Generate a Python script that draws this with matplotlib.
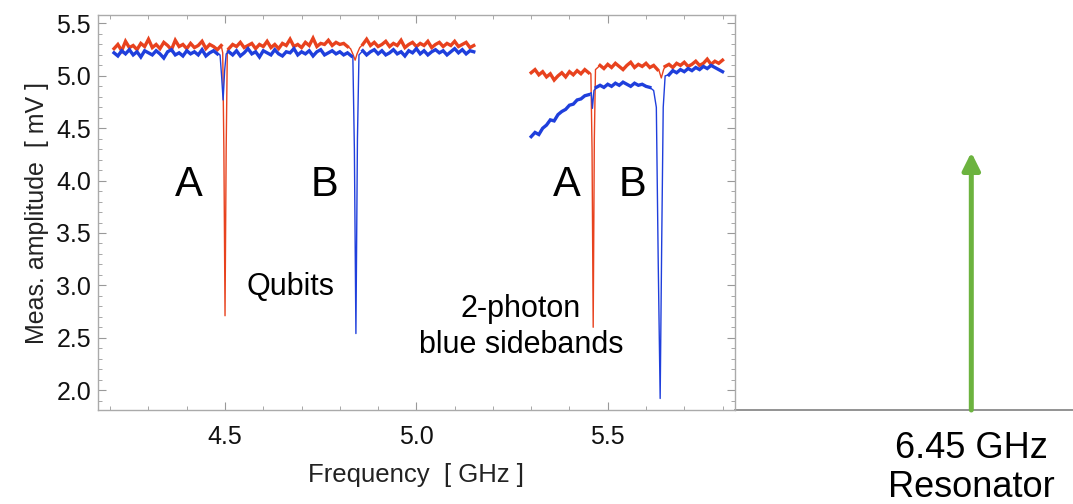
import numpy as np
import matplotlib
matplotlib.use("Agg")
import matplotlib.pyplot as plt

plt.rcParams['font.family'] = ['Liberation Sans', 'DejaVu Sans']

# ---- data ----------------------------------------------------------------
# left sweep: 4.21 .. 5.15 GHz, 0.01 GHz step
left_start, left_step = 4.21, 0.01
left_red = [
    5.26, 5.30, 5.24, 5.33, 5.27, 5.29, 5.25, 5.31, 5.28, 5.35,
    5.27, 5.30, 5.26, 5.32, 5.29, 5.25, 5.34, 5.28, 5.30, 5.26,
    5.31, 5.27, 5.29, 5.33, 5.26, 5.30, 5.28, 5.25, 5.29, 5.27,
    5.26, 5.30, 5.28, 5.32, 5.27, 5.29, 5.31, 5.26, 5.30, 5.28,
    5.33, 5.27, 5.30, 5.26, 5.31, 5.29, 5.35, 5.28, 5.30, 5.27,
    5.32, 5.29, 5.36, 5.28, 5.31, 5.30, 5.34, 5.29, 5.32, 5.30,
    5.31, 5.28, 5.33, 5.22, 5.27, 5.30, 5.35, 5.29, 5.32, 5.28,
    5.30, 5.33, 5.28, 5.31, 5.29, 5.34, 5.27, 5.30, 5.32, 5.28,
    5.31, 5.29, 5.33, 5.27, 5.30, 5.32, 5.28, 5.31, 5.29, 5.33,
    5.28, 5.30, 5.32, 5.27, 5.29]
left_blue = [
    5.22, 5.19, 5.24, 5.21, 5.25, 5.20, 5.23, 5.18, 5.24, 5.22,
    5.20, 5.24, 5.21, 5.17, 5.23, 5.25, 5.20, 5.22, 5.19, 5.24,
    5.21, 5.23, 5.20, 5.25, 5.19, 5.22, 5.24, 5.21, 5.18, 5.22,
    5.23, 5.20, 5.24, 5.19, 5.22, 5.26, 5.21, 5.23, 5.18, 5.24,
    5.22, 5.20, 5.25, 5.21, 5.19, 5.23, 5.22, 5.26, 5.20, 5.23,
    5.21, 5.24, 5.19, 5.23, 5.25, 5.20, 5.22, 5.24, 5.21, 5.23,
    5.20, 5.22, 5.19, 5.23, 5.21, 5.24, 5.20, 5.23, 5.25, 5.21,
    5.24, 5.20, 5.22, 5.25, 5.21, 5.23, 5.19, 5.24, 5.22, 5.26,
    5.21, 5.24, 5.20, 5.23, 5.25, 5.22, 5.24, 5.20, 5.23, 5.26,
    5.22, 5.25, 5.21, 5.24, 5.23]

# right sweep: 5.30 .. 5.80 GHz, 0.01 GHz step
right_start, right_step = 5.30, 0.01
right_red = [
    5.03, 5.06, 5.01, 5.04, 4.99, 5.02, 4.96, 5.00, 5.03, 4.99,
    5.04, 5.01, 5.05, 5.02, 5.06, 5.03, 5.02, 5.08, 5.10, 5.07,
    5.11, 5.08, 5.12, 5.09, 5.06, 5.10, 5.13, 5.08, 5.11, 5.09,
    5.12, 5.08, 5.10, 5.06, 5.05, 5.09, 5.11, 5.08, 5.12, 5.10,
    5.13, 5.09, 5.11, 5.14, 5.10, 5.12, 5.16, 5.11, 5.14, 5.12, 5.15]
right_blue = [
    4.42, 4.46, 4.44, 4.50, 4.53, 4.58, 4.57, 4.63, 4.66, 4.68,
    4.72, 4.73, 4.77, 4.78, 4.81, 4.82, 4.85, 4.89, 4.91, 4.89,
    4.92, 4.90, 4.93, 4.91, 4.94, 4.92, 4.90, 4.93, 4.91, 4.92,
    4.90, 4.89, 4.80, 4.70, 4.98, 5.03, 5.01, 5.05, 5.03, 5.06,
    5.04, 5.07, 5.05, 5.08, 5.06, 5.09, 5.07, 5.10, 5.08, 5.06, 5.04]

# resonance dips: (window lo, window hi, freqs, amplitudes)
red_dips = [
    (4.493, 4.507, [4.494, 4.497, 4.500, 4.503, 4.506], [5.22, 4.30, 2.71, 4.30, 5.24]),
    (4.825, 4.855, [4.828, 4.835, 4.840, 4.845, 4.852], [5.26, 5.20, 5.15, 5.21, 5.27]),
    (5.455, 5.470, [5.456, 5.459, 5.462, 5.465, 5.468], [5.02, 4.30, 2.60, 4.40, 5.06]),
    (5.632, 5.648, [5.634, 5.640, 5.646], [5.05, 4.98, 5.06]),
]
blue_dips = [
    (4.485, 4.505, [4.487, 4.491, 4.495, 4.499, 4.503], [5.20, 5.00, 4.77, 5.05, 5.21]),
    (4.832, 4.852, [4.834, 4.838, 4.842, 4.846, 4.850], [5.18, 4.30, 2.54, 4.40, 5.20]),
    (5.455, 5.468, [5.457, 5.460, 5.464], [4.84, 4.69, 4.86]),
    (5.615, 5.650, [5.620, 5.627, 5.632, 5.637, 5.641, 5.645, 5.650],
     [4.86, 4.70, 3.20, 1.92, 3.40, 4.70, 5.00]),
]

resonator_freq = 6.45


def build(start, step, vals, dips):
    f = start + step * np.arange(len(vals))
    a = np.array(vals, dtype=float)
    keep = np.ones(len(f), dtype=bool)
    for lo, hi, df, da in dips:
        keep &= ~((f >= lo) & (f <= hi))
    fs, as_ = [f[keep]], [a[keep]]
    for lo, hi, df, da in dips:
        if f[0] <= lo <= f[-1]:
            fs.append(np.array(df))
            as_.append(np.array(da))
    full_f = np.concatenate(fs)
    full_a = np.concatenate(as_)
    o = np.argsort(full_f)
    base = a.copy()
    base[~keep] = np.nan
    return full_f[o], full_a[o], f, base


RED = '#e8421e'
BLUE = '#1f3fdc'

fig = plt.figure(figsize=(10.73, 5.04), dpi=100)
ax = fig.add_axes([0.0913, 0.1865, 0.5935, 0.7835])

xmin, xmax = 4.168, 5.832
ymin, ymax = 1.81, 5.58

for start, step, r, b in [(left_start, left_step, left_red, left_blue),
                          (right_start, right_step, right_red, right_blue)]:
    fr, ar, br_f, br_a = build(start, step, r, red_dips)
    fb, ab, bb_f, bb_a = build(start, step, b, blue_dips)
    ax.plot(fr, ar, color=RED, lw=1.0)
    ax.plot(br_f, br_a, color=RED, lw=2.4, solid_joinstyle='miter')
    ax.plot(fb, ab, color=BLUE, lw=1.0)
    ax.plot(bb_f, bb_a, color=BLUE, lw=2.4, solid_joinstyle='miter')

ax.set_xlim(xmin, xmax)
ax.set_ylim(ymin, ymax)
ax.set_xticks([4.5, 5.0, 5.5])
ax.set_xticks(np.arange(4.2, 5.85, 0.1), minor=True)
ax.set_yticks([2.0, 2.5, 3.0, 3.5, 4.0, 4.5, 5.0, 5.5])
ax.set_yticks(np.arange(1.9, 5.6, 0.1), minor=True)
ax.set_xticklabels(['4.5', '5.0', '5.5'])
ax.set_yticklabels(['2.0', '2.5', '3.0', '3.5', '4.0', '4.5', '5.0', '5.5'])

for s in ax.spines.values():
    s.set_color('#aaaaaa')
    s.set_linewidth(1.0)
ax.tick_params(which='both', direction='in', top=True, right=True,
               color='#999999', labelsize=18, labelcolor='#111111')
ax.tick_params(which='major', length=6, width=0.8)
ax.tick_params(which='minor', length=3, width=0.6)
ax.tick_params(axis='x', which='major', pad=11)
ax.tick_params(axis='y', which='major', pad=5)

ax.set_xlabel('Frequency  [ GHz ]', fontsize=18.5, color='#222222', labelpad=10)
ax.set_ylabel('Meas. amplitude  [ mV ]', fontsize=18, color='#222222', labelpad=5)

# annotations
ax.text(4.406, 3.96, 'A', fontsize=30, ha='center', va='center')
ax.text(4.761, 3.96, 'B', fontsize=30, ha='center', va='center')
ax.text(5.393, 3.96, 'A', fontsize=30, ha='center', va='center')
ax.text(5.565, 3.96, 'B', fontsize=30, ha='center', va='center')
ax.text(4.672, 2.98, 'Qubits', fontsize=22, ha='center', va='center')
ax.text(5.273, 2.60, '2-photon\nblue sidebands', fontsize=22, ha='center',
        va='center', linespacing=1.25)

# baseline continuing to the right and the resonator arrow
ax.plot([xmax, 6.72], [ymin, ymin], color='#8a8a8a', lw=1.3, clip_on=False)
ax.annotate('', xy=(resonator_freq, 4.27), xytext=(resonator_freq, ymin),
            arrowprops=dict(arrowstyle='-|>,head_length=0.7,head_width=0.35',
                            color='#6cb33f', lw=3.6, mutation_scale=15,
                            shrinkA=0, shrinkB=0),
            annotation_clip=False)
ax.text(resonator_freq, 1.255, '6.45 GHz\nResonator', fontsize=26,
        ha='center', va='center', linespacing=1.15, clip_on=False)

fig.savefig('out.png', dpi=100)
